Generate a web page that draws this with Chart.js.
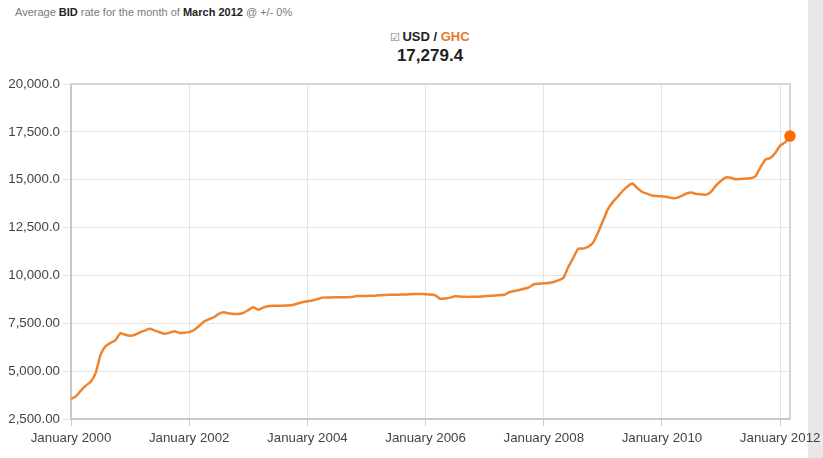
<!DOCTYPE html>
<html>
<head>
<meta charset="utf-8">
<script src="https://cdn.jsdelivr.net/npm/chart.js@4.4.1/dist/chart.umd.min.js"></script>
<style>
  html, body { margin: 0; padding: 0; background: #fff; }
  body { width: 823px; height: 458px; position: relative; overflow: hidden; font-family: "Liberation Sans", Arial, sans-serif; }
  #sidebar { position: absolute; left: 808px; top: 0; width: 15px; height: 458px; background: #e8e8e8; }
  #caption { position: absolute; left: 15px; top: 6px; font-size: 11px; color: #7a7a7a; white-space: nowrap; }
  #caption b { color: #222; }
  #pair { position: absolute; left: 330px; width: 200px; top: 29px; text-align: center; font-size: 13px; font-weight: bold; color: #222; }
  #pair .ghc { color: #e8772e; }
  #pair .box { font-size: 11px; color: #6a7a8a; font-weight: normal; margin-right: 2px; }
  #rate { position: absolute; left: 330px; width: 200px; top: 46px; text-align: center; font-size: 17px; font-weight: bold; color: #222; }
  #wrap { position: absolute; left: 0; top: 0; width: 823px; height: 458px; }
</style>
</head>
<body>
<div id="sidebar"></div>
<div id="caption">Average <b>BID</b> rate for the month of <b>March 2012</b> @ +/- 0%</div>
<div id="pair"><span class="box">&#9745;</span>USD / <span class="ghc">GHC</span></div>
<div id="rate">17,279.4</div>
<div id="wrap"><canvas id="chartRate"></canvas></div>
<script>
// valori medi mensili USD/GHC
const rates2000 = [3550, 3680, 3980, 4240, 4450, 4900, 5850, 6300, 6470, 6610, 6980, 6900];
const rates2001 = [6850, 6900, 7030, 7120, 7210, 7120, 7030, 6950, 7010, 7080, 7000, 7010];
const rates2002 = [7040, 7150, 7360, 7590, 7710, 7815, 7990, 8075, 8025, 7990, 7990, 8045];
const rates2003 = [8190, 8340, 8210, 8320, 8390, 8410, 8410, 8420, 8430, 8450, 8530, 8600];
const rates2004 = [8650, 8690, 8760, 8840, 8850, 8850, 8860, 8860, 8860, 8870, 8920, 8920];
const rates2005 = [8930, 8940, 8950, 8970, 8980, 8990, 8990, 9000, 9000, 9020, 9030, 9030];
const rates2006 = [9020, 9000, 8960, 8780, 8800, 8840, 8910, 8895, 8880, 8880, 8885, 8895];
const rates2007 = [8915, 8935, 8950, 8970, 8990, 9120, 9180, 9240, 9300, 9380, 9540, 9570];
const rates2008 = [9590, 9610, 9660, 9750, 9880, 10450, 10920, 11400, 11400, 11500, 11710, 12230];
const rates2009 = [12840, 13450, 13830, 14110, 14410, 14650, 14800, 14560, 14360, 14270, 14180, 14150];
const rates2010 = [14130, 14110, 14040, 14050, 14160, 14280, 14330, 14250, 14240, 14220, 14380, 14700];
const rates2011 = [14950, 15120, 15100, 15020, 15040, 15060, 15080, 15180, 15650, 16050, 16130, 16400];
const rates2012 = [16780, 16950, 17279.4];

const years = [2000, 2001, 2002, 2003, 2004, 2005, 2006, 2007, 2008, 2009, 2010, 2011, 2012];
const monthNames = ["January", "February", "March", "April", "May", "June", "July",
                    "August", "September", "October", "November", "December"];
const yTickLabels = ["2,500.00", "5,000.00", "7,500.00", "10,000.0", "12,500.0", "15,000.0", "17,500.0", "20,000.0"];

const yearlyRates = [rates2000, rates2001, rates2002, rates2003, rates2004, rates2005, rates2006,
                     rates2007, rates2008, rates2009, rates2010, rates2011, rates2012];

const monthLabels = [];
const bidRates = [];
yearlyRates.forEach(function (list, y) {
    list.forEach(function (v, m) {
        monthLabels.push(monthNames[m] + " " + years[y]);
        bidRates.push(v);
    });
});
const lastIndex = bidRates.length - 1;

Chart.defaults.font.family = "'Liberation Sans', Arial, sans-serif";

// cornice del riquadro (lati alto e destro)
const frameBox = {
    id: "frameBox",
    beforeDatasetsDraw(chart) {
        const a = chart.chartArea, c = chart.ctx;
        c.save();
        c.strokeStyle = "#d6d6d6";
        c.lineWidth = 2;
        c.beginPath();
        c.moveTo(a.left, a.top);
        c.lineTo(a.right, a.top);
        c.lineTo(a.right, a.bottom);
        c.stroke();
        c.restore();
    }
};

new Chart(document.getElementById("chartRate"), {
    type: "line",
    data: {
        labels: monthLabels,
        datasets: [{
            label: "USD / GHC",
            data: bidRates,
            borderColor: "#f0832c",
            borderWidth: 2.5,
            tension: 0.15,
            fill: false,
            pointRadius: ctx => ctx.dataIndex === lastIndex ? 4.5 : 0,
            pointBackgroundColor: "#ff6a00",
            pointBorderColor: "#ff6a00",
            pointHoverRadius: 0
        }]
    },
    options: {
        responsive: true,
        maintainAspectRatio: false,
        animation: false,
        layout: { padding: { top: 84, right: 33, left: 0, bottom: 0 } },
        plugins: { legend: { display: false }, tooltip: { enabled: false } },
        scales: {
            x: {
                offset: false,
                grid: { color: "#e4e4e4", tickLength: 7, tickColor: "#cccccc" },
                border: { color: "#c8c8c8", width: 2 },
                ticks: {
                    autoSkip: false, maxRotation: 0, padding: 4,
                    color: "#444", font: { size: 13.3 },
                    callback: function (val, i) {
                        return i % 24 === 0 ? this.getLabelForValue(val) : null;
                    }
                },
                afterFit: function (s) { s.height = 39; s.paddingLeft = 0; s.paddingRight = 0; }
            },
            y: {
                min: 2500, max: 20000,
                grid: { color: "#e4e4e4", tickLength: 8 },
                border: { color: "#c8c8c8", width: 2 },
                ticks: {
                    stepSize: 2500, padding: 3, color: "#444", font: { size: 13.3 },
                    callback: (v, i) => yTickLabels[i]
                },
                afterFit: function (s) { s.width = 71; s.paddingTop = 0; s.paddingBottom = 0; }
            }
        }
    },
    plugins: [frameBox]
});
</script>
</body>
</html>
